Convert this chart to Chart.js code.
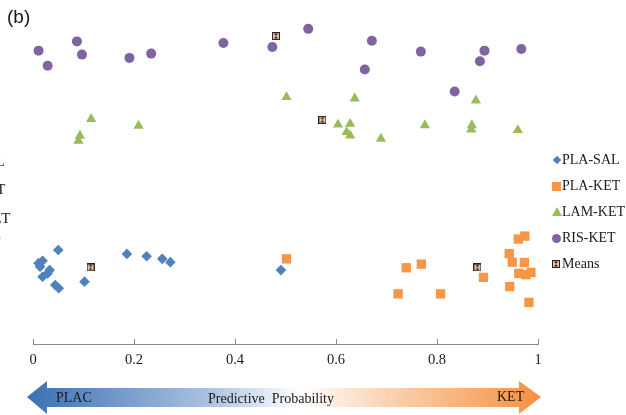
<!DOCTYPE html>
<html>
<head>
<meta charset="utf-8">
<script src="https://cdn.jsdelivr.net/npm/chart.js@4.4.1/dist/chart.umd.min.js"></script>
<style>
  html, body { margin: 0; padding: 0; background: #fff; }
  #wrap { position: relative; width: 626px; height: 415px; overflow: hidden; font-family: "Liberation Serif", "Times New Roman", serif; color: #1a1a1a; }
  #chart { position: absolute; left: 0; top: 0; }
  .panel { position: absolute; left: 7px; top: 6px; font-family: "Liberation Sans", Arial, sans-serif; font-size: 19px; }
  .lg { position: absolute; font-size: 14px; white-space: nowrap; line-height: 16px; }
  .cut { position: absolute; left: -57px; font-size: 15px; white-space: nowrap; line-height: 18px; }
  .bar-text { position: absolute; font-size: 14px; white-space: nowrap; line-height: 16px; }
</style>
</head>
<body>
<div id="wrap">
  <canvas id="chart" width="626" height="415"></canvas>
  <div class="panel">(b)</div>
  <div id="cutLegend"></div>
  <div id="legend"></div>
  <svg style="position:absolute;left:0;top:0" width="626" height="415">
    <defs>
      <linearGradient id="probGrad" x1="27" y1="0" x2="541" y2="0" gradientUnits="userSpaceOnUse">
        <stop offset="0" stop-color="#3a70b3"/>
        <stop offset="0.35" stop-color="#a9c1e0"/>
        <stop offset="0.53" stop-color="#ffffff"/>
        <stop offset="0.7" stop-color="#fbd3b2"/>
        <stop offset="1" stop-color="#f68f3e"/>
      </linearGradient>
    </defs>
    <polygon points="27,397 47,381 47,388 519,388 519,381 541,397 519,414 519,407 47,407 47,414" fill="url(#probGrad)"/>
  </svg>
  <div class="bar-text" style="left:56px;top:390px">PLAC</div>
  <div class="bar-text" style="left:208px;top:391px">Predictive&nbsp; Probability</div>
  <div class="bar-text" style="left:497px;top:389px">KET</div>
</div>
<script>
// 刻度
const xTicks = [0, 0.2, 0.4, 0.6, 0.8, 1];
const seriesNames = ['PLA-SAL', 'PLA-KET', 'LAM-KET', 'RIS-KET', 'Means'];
const seriesColors = ['#4f81bd', '#f79646', '#9bbb59', '#8064a2', '#e9b49a'];

// 各组数据 (x = 预测概率, y = 纵向错开位置)
const plaSalX = [0.050, 0.011, 0.019, 0.014, 0.033, 0.029, 0.019, 0.044, 0.051, 0.102, 0.186, 0.225, 0.256, 0.272, 0.491];
const plaSalY = [28.5, 24.5, 25.2, 23.4, 22.4, 21.4, 20.4, 17.9, 16.9, 18.9, 27.3, 26.6, 25.8, 24.8, 22.4];

const plaKetX = [0.502, 0.739, 0.769, 0.723, 0.807, 0.892, 0.944, 0.961, 0.974, 0.943, 0.949, 0.973, 0.962, 0.976, 0.986, 0.982];
const plaKetY = [25.8, 23.1, 24.2, 15.2, 15.2, 20.2, 17.4, 31.8, 32.7, 27.4, 24.8, 24.7, 21.4, 21.0, 21.7, 12.6];

const lamKetX = [0.115, 0.093, 0.090, 0.209, 0.502, 0.637, 0.604, 0.628, 0.621, 0.628, 0.689, 0.776, 0.869, 0.868, 0.877, 0.960];
const lamKetY = [68.2, 63.1, 61.6, 66.1, 74.8, 74.4, 66.5, 66.7, 64.2, 63.2, 62.2, 66.3, 66.3, 65.0, 73.8, 64.8];

const risKetX = [0.011, 0.029, 0.087, 0.097, 0.191, 0.234, 0.377, 0.474, 0.545, 0.671, 0.657, 0.768, 0.894, 0.885, 0.967, 0.835];
const risKetY = [88.9, 84.3, 91.7, 87.7, 86.7, 88.0, 91.2, 90.0, 95.5, 91.9, 83.2, 88.6, 88.9, 85.7, 89.4, 76.5];

const meansX = [0.114, 0.880, 0.573, 0.481];
const meansY = [23.2, 23.2, 67.9, 93.3];

// 均值图标
function makeMeanIcon(size) {
  const c = document.createElement('canvas');
  c.width = size;
  c.height = size;
  const g = c.getContext('2d');
  g.fillStyle = '#2a2220';
  g.fillRect(0, 0, size, size);
  g.fillStyle = '#efc2aa';
  g.fillRect(1, 1, size - 2, size - 2);
  g.fillStyle = '#2a2220';
  g.beginPath();
  g.moveTo(2, 1.5); g.lineTo(size - 2, 1.5); g.lineTo(size / 2, size / 2); g.closePath();
  g.moveTo(2, size - 1.5); g.lineTo(size - 2, size - 1.5); g.lineTo(size / 2, size / 2); g.closePath();
  g.fill();
  return c;
}

function pts(xs, ys) {
  return xs.map((x, i) => ({ x, y: ys[i] }));
}

const meanIcon = makeMeanIcon(8);

const datasets = [
  { label: seriesNames[0], data: pts(plaSalX, plaSalY), pointStyle: 'rectRot', pointRadius: 5.3 },
  { label: seriesNames[1], data: pts(plaKetX, plaKetY), pointStyle: 'rect', pointRadius: 6.6 },
  { label: seriesNames[2], data: pts(lamKetX, lamKetY), pointStyle: 'triangle', pointRadius: 5.9 },
  { label: seriesNames[3], data: pts(risKetX, risKetY), pointStyle: 'circle', pointRadius: 5 },
  { label: seriesNames[4], data: pts(meansX, meansY), pointStyle: meanIcon, pointRadius: 4 },
].map((d, i) => ({
  ...d,
  backgroundColor: seriesColors[i],
  borderColor: seriesColors[i],
  borderWidth: 0,
  pointHoverRadius: d.pointRadius,
}));

new Chart(document.getElementById('chart'), {
  type: 'scatter',
  data: { datasets },
  options: {
    responsive: false,
    animation: false,
    devicePixelRatio: 1,
    layout: { padding: { left: 33, right: 88, top: 14, bottom: 41 } },
    plugins: {
      legend: { display: false },
      tooltip: { enabled: false },
    },
    scales: {
      x: {
        type: 'linear',
        min: 0,
        max: 1,
        afterBuildTicks: (scale) => { scale.ticks = xTicks.map(v => ({ value: v })); },
        afterFit: (scale) => { scale.height = 30; },
        border: { display: true, color: '#8a8a8a', width: 1 },
        grid: { display: true, drawOnChartArea: false, drawTicks: true, tickLength: -5, color: '#8a8a8a' },
        ticks: {
          padding: 12,
          color: '#1a1a1a',
          font: { family: 'Liberation Serif', size: 14.5 },
          callback: (v) => String(v),
        },
      },
      y: { display: false, min: 0, max: 100 },
    },
  },
});

// 右侧图例
const legendTops = [160, 186, 212, 238, 264];
const legend = document.getElementById('legend');
seriesNames.forEach((name, i) => {
  const row = document.createElement('div');
  row.className = 'lg';
  row.style.left = '562px';
  row.style.top = (legendTops[i] - 8) + 'px';
  row.textContent = name;
  let mk;
  if (i === 4) {
    mk = makeMeanIcon(8);
    mk.style.position = 'absolute';
    mk.style.left = '-10px';
    mk.style.top = '4px';
  } else {
    mk = document.createElement('span');
    mk.style.position = 'absolute';
    if (i === 0) {
      Object.assign(mk.style, { width: '6px', height: '6px', left: '-8px', top: '5px', background: seriesColors[0], transform: 'rotate(45deg)' });
    } else if (i === 1) {
      Object.assign(mk.style, { width: '9px', height: '9px', left: '-10px', top: '3.5px', background: seriesColors[1] });
    } else if (i === 2) {
      Object.assign(mk.style, { width: '0', height: '0', left: '-10px', top: '3px', borderLeft: '5px solid transparent', borderRight: '5px solid transparent', borderBottom: '9px solid ' + seriesColors[2] });
    } else {
      Object.assign(mk.style, { width: '9px', height: '9px', left: '-10px', top: '3.5px', background: seriesColors[3], borderRadius: '50%' });
    }
  }
  row.appendChild(mk);
  legend.appendChild(row);
});

// 左侧被裁掉的图例
const cutTops = [161, 189, 218, 242];
const cut = document.getElementById('cutLegend');
seriesNames.slice(0, 4).forEach((name, i) => {
  const el = document.createElement('div');
  el.className = 'cut';
  el.style.top = (cutTops[i] - 9) + 'px';
  el.textContent = name;
  cut.appendChild(el);
});
</script>
</body>
</html>
